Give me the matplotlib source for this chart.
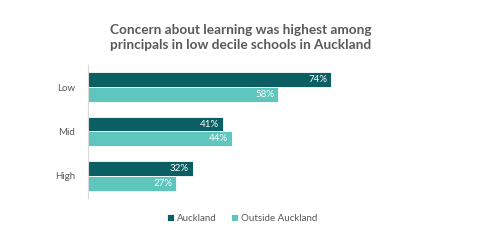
import matplotlib
matplotlib.use("Agg")
import matplotlib.pyplot as plt
import numpy as np

categories = ["Low", "Mid", "High"]
auckland = [74, 41, 32]
outside = [58, 44, 27]
series_names = ["Auckland", "Outside Auckland"]
title = "Concern about learning was highest among\nprincipals in low decile schools in Auckland"

dark = "#0b5e62"
light = "#5ec6bc"
grey = "#595959"

plt.rcParams['font.family'] = ['Lato', 'DejaVu Sans']

fig = plt.figure(figsize=(4.8, 2.46), dpi=100)
ax = fig.add_axes([0.1827, 0.195, 0.685, 0.541])

y = np.arange(len(categories))
h = 0.335
b1 = ax.barh(y - h/2, auckland, height=h, color=dark, edgecolor="white", linewidth=0.6, label=series_names[0])
b2 = ax.barh(y + h/2, outside, height=h, color=light, edgecolor="white", linewidth=0.6, label=series_names[1])

for bars, vals in ((b1, auckland), (b2, outside)):
    for bar, v in zip(bars, vals):
        ax.text(bar.get_width() - 1.2, bar.get_y() + bar.get_height()/2, f"{v}%",
                ha="right", va="center", color="white", fontsize=7)

ax.set_ylim(2.5, -0.5)
ax.set_xlim(0, 100)
ax.set_yticks(y)
ax.set_yticklabels(categories, fontsize=7, color=grey)
ax.tick_params(axis="y", length=0, pad=9)
ax.set_xticks([])
for s in ["top", "right", "bottom"]:
    ax.spines[s].set_visible(False)
ax.spines["left"].set_color("#d9d9d9")
ax.spines["left"].set_linewidth(0.8)

fig.text(0.502, 0.848, title, ha="center", va="center", fontsize=9.8,
         fontweight="bold", color=grey, linespacing=1.3)

fig.legend(handles=[b1, b2], labels=series_names, loc="center", bbox_to_anchor=(0.505, 0.113),
           ncol=2, frameon=False, fontsize=7, labelcolor=grey, handlelength=0.7,
           handleheight=0.7, handletextpad=0.3, columnspacing=1.5)

fig.savefig("out.png", dpi=100)
